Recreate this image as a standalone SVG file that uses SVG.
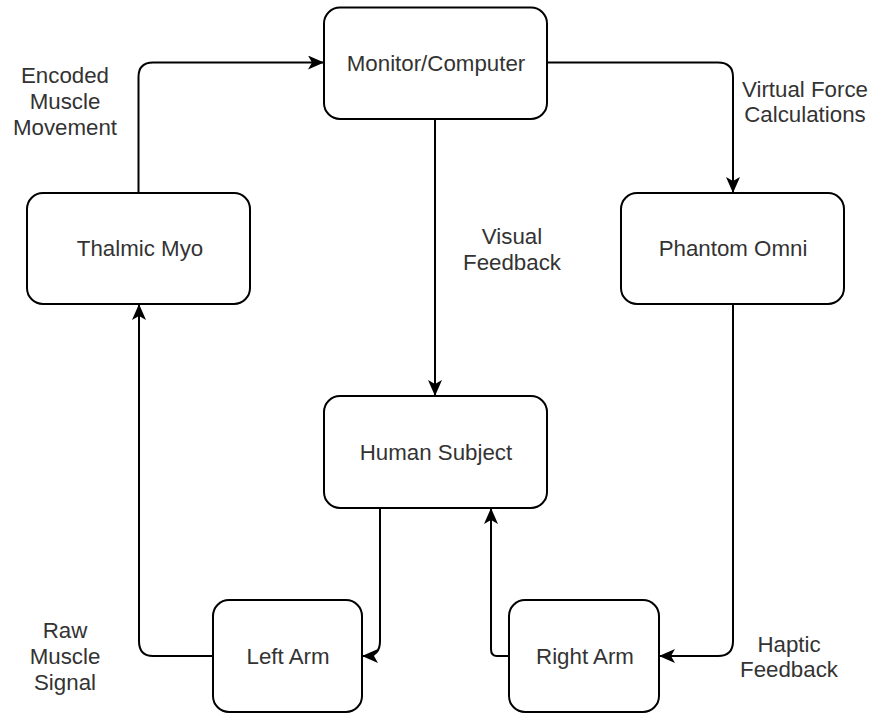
<svg xmlns="http://www.w3.org/2000/svg" width="876" height="713" viewBox="0 0 876 713">
<style>
.box{fill:#fff;stroke:#000;stroke-width:2}
.lbl{font-family:"Liberation Sans",Arial,sans-serif;font-size:22.3px;fill:#333;text-anchor:middle}
.edge{fill:none;stroke:#000;stroke-width:2;marker-end:url(#arr)}
</style>
<defs>
<marker id="arr" markerUnits="userSpaceOnUse" viewBox="0 0 16 14" refX="15" refY="7" markerWidth="16" markerHeight="14" orient="auto">
<path d="M0,0 L16,7 L0,14 L4,7 Z" fill="#000"/>
</marker>
</defs>
<rect width="876" height="713" fill="#fff"/>
<g id="connectors">
<path class="edge" d="M138.5,193 V77 Q138.5,62.5 153,62.5 H323"/>
<path class="edge" d="M547,62.5 H718 Q733,62.5 733,77 V192"/>
<path class="edge" d="M435,119 V395"/>
<path class="edge" d="M380,508 V641 Q380,656 366,656 H363"/>
<path class="edge" d="M213,656 H153 Q139,656 139,641 V305"/>
<path class="edge" d="M509,656 H497 Q491,656 491,649 V509"/>
<path class="edge" d="M733,304 V641 Q733,656 718,656 H660"/>
</g>
<g id="monitor"><rect class="box" x="324" y="7.5" width="223" height="111.5" rx="16"/><text class="lbl" x="436" y="71">Monitor/Computer</text></g>
<g id="myo"><rect class="box" x="27" y="193" width="223" height="111" rx="16"/><text class="lbl" x="140" y="256">Thalmic Myo</text></g>
<g id="phantom"><rect class="box" x="621" y="193" width="223" height="111" rx="16"/><text class="lbl" x="733" y="256">Phantom Omni</text></g>
<g id="human"><rect class="box" x="324" y="396" width="223" height="112" rx="16"/><text class="lbl" x="436" y="460">Human Subject</text></g>
<g id="leftarm"><rect class="box" x="213" y="600" width="149" height="112" rx="16"/><text class="lbl" x="288" y="664">Left Arm</text></g>
<g id="rightarm"><rect class="box" x="509" y="600" width="150" height="112" rx="16"/><text class="lbl" x="585" y="664">Right Arm</text></g>
<g id="labels">
<text class="lbl" x="65" y="83">Encoded</text>
<text class="lbl" x="65" y="109">Muscle</text>
<text class="lbl" x="65" y="135">Movement</text>
<text class="lbl" x="805" y="97">Virtual Force</text>
<text class="lbl" x="805" y="122">Calculations</text>
<text class="lbl" x="512" y="244">Visual</text>
<text class="lbl" x="512" y="270">Feedback</text>
<text class="lbl" x="65" y="638">Raw</text>
<text class="lbl" x="65" y="664">Muscle</text>
<text class="lbl" x="65" y="690">Signal</text>
<text class="lbl" x="789" y="652">Haptic</text>
<text class="lbl" x="789" y="677">Feedback</text>
</g>
</svg>
